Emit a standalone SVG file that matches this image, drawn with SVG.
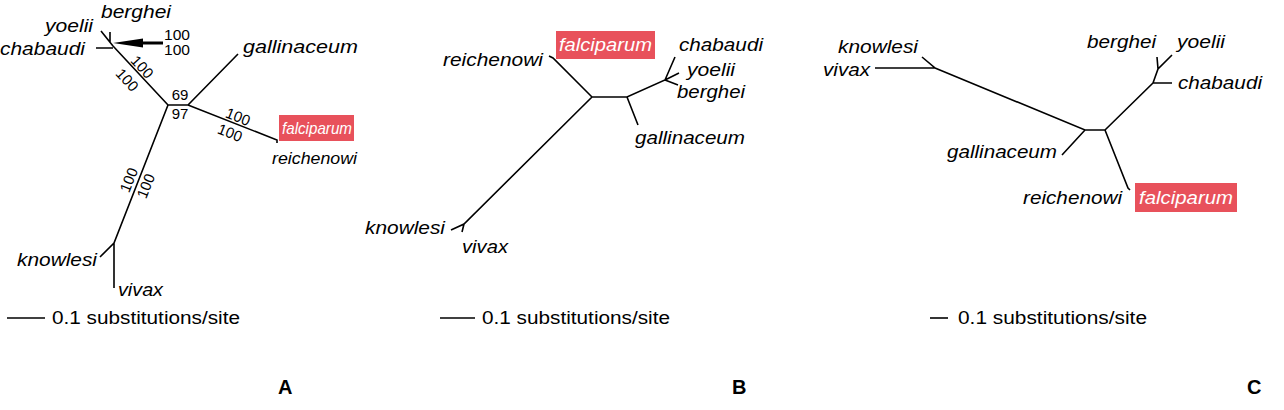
<svg xmlns="http://www.w3.org/2000/svg" width="1284" height="410" viewBox="0 0 1284 410">
<style>
.sp{font-family:"Liberation Sans",Arial,sans-serif;font-style:italic;font-size:18px;fill:#000}
.sm{font-family:"Liberation Sans",Arial,sans-serif;font-style:italic;font-size:17px;fill:#000}
.hl{font-family:"Liberation Sans",Arial,sans-serif;font-style:italic;font-size:18px;fill:#fff}
.hs{font-family:"Liberation Sans",Arial,sans-serif;font-style:italic;font-size:17px;fill:#fff}
.bs{font-family:"Liberation Sans",Arial,sans-serif;font-size:15px;fill:#000}
.sc{font-family:"Liberation Sans",Arial,sans-serif;font-size:18px;fill:#000}
.pl{font-family:"Liberation Sans",Arial,sans-serif;font-size:20px;font-weight:bold;fill:#000}
.br{fill:none;stroke:#000;stroke-width:1.6;stroke-linecap:butt}
.box{fill:#e8515b}
</style>
<rect width="1284" height="410" fill="#fff"/>
<g id="connectors">
  <!-- Panel A -->
  <path class="br" d="M113,46 L168,105 H188 L238,54 M188,105 L277,140 L277,143 M168,105 L114,243 L100,257 M114,243 V288 M96,48 H113 M101,31 L113,46 M110,32 V42"/>
  <polygon points="113,43 143,38.5 143,47.5" fill="#000"/>
  <line x1="142" y1="43" x2="163" y2="43" stroke="#000" stroke-width="3"/>
  <path class="br" d="M7,318 H45"/>
  <!-- Panel B -->
  <path class="br" d="M549,56 L553,58 L592,97 H627 L665,80 L675,57 M665,80 L679,73 M665,80 L678,85 M627,97 L638,125 M592,97 L464,224 L451,230 M464,224 L462,232"/>
  <path class="br" d="M440,318 H475"/>
  <!-- Panel C -->
  <path class="br" d="M875,68 H935 L922,57 M935,68 L1085,130 H1105 M1085,130 L1062,155 M1105,130 L1128,188 L1130,190 M1105,130 L1153,83 H1172 M1153,83 L1158,69 L1172,55 M1158,69 L1157,57"/>
  <path class="br" d="M930,318 H948"/>
</g>
<g id="panelA">
  <text class="sp" x="101" y="18" textLength="70" lengthAdjust="spacingAndGlyphs">berghei</text>
  <text class="sp" x="45" y="32" textLength="48" lengthAdjust="spacingAndGlyphs">yoelii</text>
  <text class="sp" x="0" y="55" textLength="85" lengthAdjust="spacingAndGlyphs">chabaudi</text>
  <text class="bs" x="164" y="40" textLength="26" lengthAdjust="spacingAndGlyphs">100</text>
  <text class="bs" x="164" y="55" textLength="26" lengthAdjust="spacingAndGlyphs">100</text>
  <text class="sp" x="243" y="53" textLength="115" lengthAdjust="spacingAndGlyphs">gallinaceum</text>
  <text class="bs" x="180" y="100" text-anchor="middle">69</text>
  <text class="bs" x="180" y="119" text-anchor="middle">97</text>
  <text class="bs" text-anchor="middle" transform="translate(142,67) rotate(47.5)" dy="5">100</text>
  <text class="bs" text-anchor="middle" transform="translate(127,80) rotate(47.5)" dy="5">100</text>
  <text class="bs" text-anchor="middle" transform="translate(238,117) rotate(21.5)" dy="5">100</text>
  <text class="bs" text-anchor="middle" transform="translate(230,133) rotate(21.5)" dy="5">100</text>
  <text class="bs" text-anchor="middle" transform="translate(129,180) rotate(-68)" dy="5">100</text>
  <text class="bs" text-anchor="middle" transform="translate(146,186) rotate(-68)" dy="5">100</text>
  <rect class="box" x="279" y="115" width="75" height="26"/>
  <text class="hs" x="282" y="134" textLength="70" lengthAdjust="spacingAndGlyphs">falciparum</text>
  <text class="sm" x="272" y="164" textLength="85" lengthAdjust="spacingAndGlyphs">reichenowi</text>
  <text class="sp" x="17" y="266" textLength="80" lengthAdjust="spacingAndGlyphs">knowlesi</text>
  <text class="sp" x="118" y="296" textLength="45" lengthAdjust="spacingAndGlyphs">vivax</text>
  <text class="sc" x="52" y="324" textLength="188" lengthAdjust="spacingAndGlyphs">0.1 substitutions/site</text>
  <text class="pl" x="278" y="394">A</text>
</g>
<g id="panelB">
  <text class="sp" x="443" y="66" textLength="100" lengthAdjust="spacingAndGlyphs">reichenowi</text>
  <rect class="box" x="556" y="31" width="99" height="28"/>
  <text class="hl" x="559" y="51" textLength="93" lengthAdjust="spacingAndGlyphs">falciparum</text>
  <text class="sp" x="679" y="51" textLength="84" lengthAdjust="spacingAndGlyphs">chabaudi</text>
  <text class="sp" x="687" y="76" textLength="48" lengthAdjust="spacingAndGlyphs">yoelii</text>
  <text class="sp" x="677" y="98" textLength="68" lengthAdjust="spacingAndGlyphs">berghei</text>
  <text class="sp" x="635" y="144" textLength="110" lengthAdjust="spacingAndGlyphs">gallinaceum</text>
  <text class="sp" x="365" y="234" textLength="80" lengthAdjust="spacingAndGlyphs">knowlesi</text>
  <text class="sp" x="462" y="253" textLength="46" lengthAdjust="spacingAndGlyphs">vivax</text>
  <text class="sc" x="482" y="324" textLength="188" lengthAdjust="spacingAndGlyphs">0.1 substitutions/site</text>
  <text class="pl" x="732" y="394">B</text>
</g>
<g id="panelC">
  <text class="sp" x="838" y="53" textLength="80" lengthAdjust="spacingAndGlyphs">knowlesi</text>
  <text class="sp" x="823" y="76" textLength="47" lengthAdjust="spacingAndGlyphs">vivax</text>
  <text class="sp" x="1087" y="48" textLength="69" lengthAdjust="spacingAndGlyphs">berghei</text>
  <text class="sp" x="1177" y="48" textLength="48" lengthAdjust="spacingAndGlyphs">yoelii</text>
  <text class="sp" x="1178" y="89" textLength="84" lengthAdjust="spacingAndGlyphs">chabaudi</text>
  <text class="sp" x="947" y="158" textLength="110" lengthAdjust="spacingAndGlyphs">gallinaceum</text>
  <text class="sp" x="1023" y="204" textLength="99" lengthAdjust="spacingAndGlyphs">reichenowi</text>
  <rect class="box" x="1135" y="183" width="102" height="29"/>
  <text class="hl" x="1139" y="204" textLength="94" lengthAdjust="spacingAndGlyphs">falciparum</text>
  <text class="sc" x="958" y="324" textLength="189" lengthAdjust="spacingAndGlyphs">0.1 substitutions/site</text>
  <text class="pl" x="1247" y="394">C</text>
</g>
</svg>
